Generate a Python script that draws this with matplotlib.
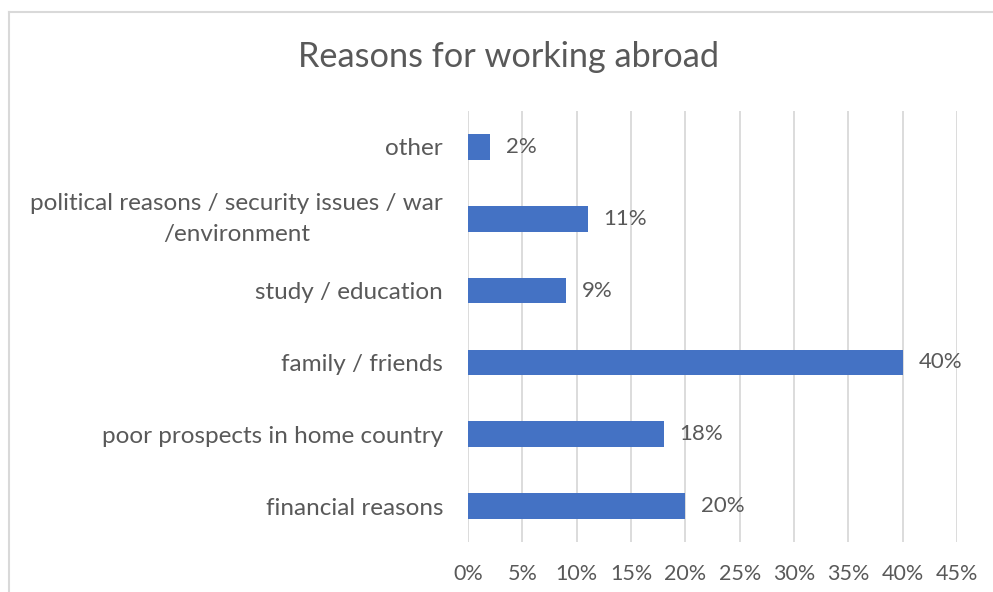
import matplotlib
matplotlib.use("Agg")
import matplotlib.pyplot as plt
from matplotlib.lines import Line2D
from matplotlib.ticker import FuncFormatter

plt.rcParams['font.family'] = ['Lato', 'DejaVu Sans']

categories = [
    "financial reasons",
    "poor prospects in home country",
    "family / friends",
    "study / education",
    "political reasons / security issues / war\n/environment",
    "other",
]
shares = [20, 18, 40, 9, 11, 2]
x_ticks = [0, 5, 10, 15, 20, 25, 30, 35, 40, 45]

TEXT = "#595959"
BAR = "#4472C4"
GRID = "#D9D9D9"

fig = plt.figure(figsize=(9.93, 5.92), dpi=100)
ax = fig.add_axes([468 / 993, 1 - 542 / 592, (957 - 468) / 993, (542 - 111) / 592])

y = range(len(categories))
ax.barh(y, shares, height=0.357, color=BAR, zorder=3)
ax.set_ylim(-0.5, len(categories) - 0.5)
ax.set_xlim(0, 45)
ax.set_xticks(x_ticks)
ax.xaxis.set_major_formatter(FuncFormatter(lambda v, p: f"{v:.0f}%"))
ax.grid(axis="x", color=GRID, linewidth=1.3, zorder=0)
ax.set_yticks(list(y))
labels = ax.set_yticklabels(categories, multialignment="center", linespacing=1.6)
for lab in labels:
    lab.set_va("center" if "\n" in lab.get_text() else "center_baseline")
ax.tick_params(axis="both", length=0, labelcolor=TEXT)
ax.tick_params(axis="y", pad=18, labelsize=17.5)
ax.tick_params(axis="x", pad=16, labelsize=15.5)
for s in ax.spines.values():
    s.set_visible(False)

for yi, v in zip(y, shares):
    ax.annotate(f"{v}%", xy=(v, yi), xytext=(11.5, 0), textcoords="offset points",
                va="center", ha="left", fontsize=16, color=TEXT)

fig.text(508 / 993, 1 - 57 / 592, "Reasons for working abroad", ha="center", va="center",
         fontsize=24.7, color=TEXT)

# chart frame
fig.add_artist(Line2D([8.5 / 993, 8.5 / 993], [0, 1 - 11.5 / 592], transform=fig.transFigure,
                      color=GRID, linewidth=1.5))
fig.add_artist(Line2D([8.5 / 993, 1], [1 - 11.5 / 592, 1 - 11.5 / 592], transform=fig.transFigure,
                      color=GRID, linewidth=1.5))

fig.savefig("out.png", dpi=100)
